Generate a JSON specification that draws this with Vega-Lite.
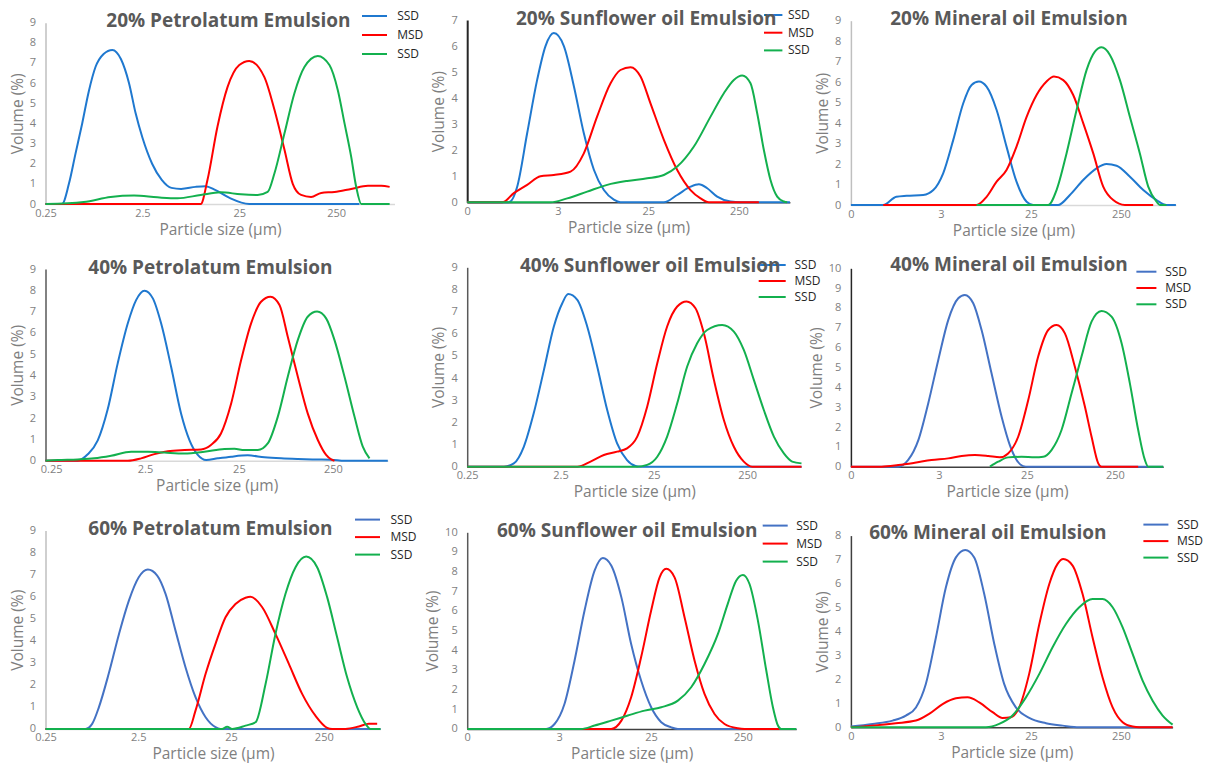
{
"$schema": "https://vega.github.io/schema/vega-lite/v6.json",
"padding": {"left": 9.5, "top": 7, "right": 5, "bottom": 5},
"background": "white",
"config": {
  "view": {"stroke": null},
  "font": "Open Sans",
  "line": {"strokeWidth": 2, "interpolate": "monotone"},
  "axis": {"grid": false, "ticks": false, "tickSize": 0, "labelColor": "#7f7f7f", "labelFontSize": 11, "labelFont": "Open Sans", "titleColor": "#7f7f7f", "titleFontSize": 15.5, "titleFontWeight": "normal", "titleFont": "Open Sans", "domainWidth": 1.5},
  "axisX": {"labelPadding": 3, "titlePadding": 4, "labelFlush": false, "labelOverlap": false, "domainColor": "#d9d9d9"},
  "axisY": {"labelPadding": 10, "titlePadding": 4, "labelFlush": false, "labelOverlap": false, "domainColor": "#bfbfbf"},
  "title": {"font": "Open Sans", "fontSize": 19, "fontWeight": "bold", "color": "#595959", "anchor": "middle", "frame": "group", "baseline": "alphabetic"},
  "legend": {"orient": "none", "symbolType": "M-1.786,0H1.786", "symbolSize": 196, "symbolStrokeWidth": 2, "labelOffset": 14, "labelFontSize": 12, "labelColor": "#262626", "labelFont": "Open Sans", "padding": 0, "offset": 0}
},
"datasets": {
"p1": [
{"series":"SSD","size":0.25,"volume":0},{"series":"SSD","size":0.37,"volume":0},{"series":"SSD","size":0.436,"volume":1.0},{"series":"SSD","size":0.51,"volume":2.5},{"series":"SSD","size":0.598,"volume":4.0},{"series":"SSD","size":0.70,"volume":5.6},{"series":"SSD","size":0.82,"volume":6.8},{"series":"SSD","size":0.995,"volume":7.45},{"series":"SSD","size":1.225,"volume":7.65},{"series":"SSD","size":1.50,"volume":7.2},{"series":"SSD","size":1.82,"volume":6.0},{"series":"SSD","size":2.13,"volume":4.5},{"series":"SSD","size":2.5,"volume":3.3},{"series":"SSD","size":3.15,"volume":2.0},{"series":"SSD","size":3.96,"volume":1.2},{"series":"SSD","size":4.99,"volume":0.8},{"series":"SSD","size":6.28,"volume":0.75},{"series":"SSD","size":8.87,"volume":0.85},{"series":"SSD","size":11.17,"volume":0.88},{"series":"SSD","size":14.06,"volume":0.7},{"series":"SSD","size":19.86,"volume":0.3},{"series":"SSD","size":31.7,"volume":0},{"series":"SSD","size":434,"volume":0},
{"series":"MSD","size":0.25,"volume":0},{"series":"MSD","size":10.0,"volume":0},{"series":"MSD","size":11.75,"volume":1.2},{"series":"MSD","size":14.9,"volume":3.85},{"series":"MSD","size":18.9,"volume":5.8},{"series":"MSD","size":25,"volume":6.9},{"series":"MSD","size":31.7,"volume":7.1},{"series":"MSD","size":45.4,"volume":6.3},{"series":"MSD","size":57.5,"volume":4.7},{"series":"MSD","size":73.1,"volume":2.7},{"series":"MSD","size":89.1,"volume":1.0},{"series":"MSD","size":108.6,"volume":0.45},{"series":"MSD","size":137.7,"volume":0.35},{"series":"MSD","size":175,"volume":0.55},{"series":"MSD","size":240,"volume":0.6},{"series":"MSD","size":357,"volume":0.75},{"series":"MSD","size":532,"volume":0.9},{"series":"MSD","size":731,"volume":0.9},{"series":"MSD","size":891,"volume":0.85},
{"series":"SSD 2","size":0.25,"volume":0},{"series":"SSD 2","size":0.62,"volume":0.1},{"series":"SSD 2","size":1.175,"volume":0.35},{"series":"SSD 2","size":2.05,"volume":0.42},{"series":"SSD 2","size":3.57,"volume":0.33},{"series":"SSD 2","size":5.75,"volume":0.28},{"series":"SSD 2","size":10.0,"volume":0.45},{"series":"SSD 2","size":16.1,"volume":0.58},{"series":"SSD 2","size":26.0,"volume":0.48},{"series":"SSD 2","size":38.7,"volume":0.45},{"series":"SSD 2","size":49.1,"volume":0.6},{"series":"SSD 2","size":57.5,"volume":1.5},{"series":"SSD 2","size":73.1,"volume":3.5},{"series":"SSD 2","size":92.7,"volume":5.5},{"series":"SSD 2","size":117.5,"volume":6.8},{"series":"SSD 2","size":161.4,"volume":7.35},{"series":"SSD 2","size":213,"volume":6.9},{"series":"SSD 2","size":260,"volume":5.65},{"series":"SSD 2","size":305,"volume":4.0},{"series":"SSD 2","size":357,"volume":2.35},{"series":"SSD 2","size":402,"volume":0.86},{"series":"SSD 2","size":454,"volume":0},{"series":"SSD 2","size":891,"volume":0}
],
"p2": [
{"series":"SSD","size":0.25,"volume":0},{"series":"SSD","size":0.721,"volume":0},{"series":"SSD","size":0.891,"volume":0.6},{"series":"SSD","size":1.148,"volume":2.65},{"series":"SSD","size":1.48,"volume":4.7},{"series":"SSD","size":1.83,"volume":6.0},{"series":"SSD","size":2.26,"volume":6.5},{"series":"SSD","size":2.92,"volume":6.0},{"series":"SSD","size":3.77,"volume":4.45},{"series":"SSD","size":4.85,"volume":2.65},{"series":"SSD","size":6.26,"volume":1.25},{"series":"SSD","size":8.07,"volume":0.47},{"series":"SSD","size":10.4,"volume":0.1},{"series":"SSD","size":12.3,"volume":0},{"series":"SSD","size":37.1,"volume":0},{"series":"SSD","size":52.1,"volume":0.28},{"series":"SSD","size":73.1,"volume":0.6},{"series":"SSD","size":90.4,"volume":0.69},{"series":"SSD","size":111.7,"volume":0.54},{"series":"SSD","size":143.9,"volume":0.22},{"series":"SSD","size":202,"volume":0.03},{"series":"SSD","size":260,"volume":0},{"series":"SSD","size":914,"volume":0},
{"series":"MSD","size":0.25,"volume":0},{"series":"MSD","size":0.608,"volume":0},{"series":"MSD","size":0.818,"volume":0.35},{"series":"MSD","size":1.148,"volume":0.67},{"series":"MSD","size":1.61,"volume":1.0},{"series":"MSD","size":2.26,"volume":1.05},{"series":"MSD","size":3.46,"volume":1.18},{"series":"MSD","size":4.85,"volume":1.88},{"series":"MSD","size":6.81,"volume":3.3},{"series":"MSD","size":9.57,"volume":4.57},{"series":"MSD","size":12.3,"volume":5.08},{"series":"MSD","size":15.9,"volume":5.19},{"series":"MSD","size":20.5,"volume":4.83},{"series":"MSD","size":26.4,"volume":3.8},{"series":"MSD","size":37.1,"volume":2.4},{"series":"MSD","size":52.1,"volume":1.24},{"series":"MSD","size":73.1,"volume":0.47},{"series":"MSD","size":94.2,"volume":0.15},{"series":"MSD","size":116.4,"volume":0},{"series":"MSD","size":415,"volume":0},
{"series":"SSD 2","size":0.25,"volume":0},{"series":"SSD 2","size":2.08,"volume":0},{"series":"SSD 2","size":3.18,"volume":0.15},{"series":"SSD 2","size":5.28,"volume":0.41},{"series":"SSD 2","size":8.79,"volume":0.67},{"series":"SSD 2","size":14.6,"volume":0.82},{"series":"SSD 2","size":24.3,"volume":0.92},{"series":"SSD 2","size":37.1,"volume":1.05},{"series":"SSD 2","size":52.1,"volume":1.37},{"series":"SSD 2","size":79.6,"volume":2.14},{"series":"SSD 2","size":121.6,"volume":3.29},{"series":"SSD 2","size":170.6,"volume":4.19},{"series":"SSD 2","size":219.8,"volume":4.7},{"series":"SSD 2","size":271.6,"volume":4.87},{"series":"SSD 2","size":335.7,"volume":4.57},{"series":"SSD 2","size":398,"volume":3.42},{"series":"SSD 2","size":472,"volume":2.0},{"series":"SSD 2","size":558,"volume":0.86},{"series":"SSD 2","size":662,"volume":0.22},{"series":"SSD 2","size":785,"volume":0.03},{"series":"SSD 2","size":853,"volume":0}
],
"p3": [
{"series":"SSD","size":0.25,"volume":0},{"series":"SSD","size":0.571,"volume":0},{"series":"SSD","size":0.80,"volume":0.4},{"series":"SSD","size":1.04,"volume":0.45},{"series":"SSD","size":1.59,"volume":0.49},{"series":"SSD","size":2.06,"volume":0.73},{"series":"SSD","size":2.65,"volume":1.55},{"series":"SSD","size":3.43,"volume":3.18},{"series":"SSD","size":4.43,"volume":4.97},{"series":"SSD","size":5.48,"volume":5.86},{"series":"SSD","size":6.61,"volume":6.03},{"series":"SSD","size":8.04,"volume":5.78},{"series":"SSD","size":10.4,"volume":4.64},{"series":"SSD","size":13.4,"volume":2.85},{"series":"SSD","size":17.3,"volume":1.14},{"series":"SSD","size":22.4,"volume":0.16},{"series":"SSD","size":26.5,"volume":0},{"series":"SSD","size":50.3,"volume":0},{"series":"SSD","size":67.8,"volume":0.49},{"series":"SSD","size":95.3,"volume":1.22},{"series":"SSD","size":134,"volume":1.79},{"series":"SSD","size":173,"volume":2.0},{"series":"SSD","size":224,"volume":1.92},{"series":"SSD","size":315,"volume":1.38},{"series":"SSD","size":443,"volume":0.73},{"series":"SSD","size":622,"volume":0.24},{"series":"SSD","size":803,"volume":0},{"series":"SSD","size":1021,"volume":0},
{"series":"MSD","size":0.571,"volume":0},{"series":"MSD","size":6.22,"volume":0},{"series":"MSD","size":8.04,"volume":0.4},{"series":"MSD","size":10.4,"volume":1.14},{"series":"MSD","size":13.4,"volume":1.71},{"series":"MSD","size":17.3,"volume":2.85},{"series":"MSD","size":22.4,"volume":4.3},{"series":"MSD","size":28.9,"volume":5.37},{"series":"MSD","size":37.3,"volume":6.03},{"series":"MSD","size":45.1,"volume":6.27},{"series":"MSD","size":57.2,"volume":6.1},{"series":"MSD","size":73.8,"volume":5.37},{"series":"MSD","size":95.3,"volume":4.0},{"series":"MSD","size":123.3,"volume":2.52},{"series":"MSD","size":159,"volume":0.9},{"series":"MSD","size":205.5,"volume":0.24},{"series":"MSD","size":277,"volume":0},{"series":"MSD","size":571,"volume":0},
{"series":"SSD 2","size":6.22,"volume":0},{"series":"SSD 2","size":39,"volume":0},{"series":"SSD 2","size":48.2,"volume":0.73},{"series":"SSD 2","size":62.2,"volume":2.52},{"series":"SSD 2","size":80.4,"volume":4.64},{"series":"SSD 2","size":104,"volume":6.6},{"series":"SSD 2","size":128.5,"volume":7.49},{"series":"SSD 2","size":152.4,"volume":7.7},{"series":"SSD 2","size":188.8,"volume":7.33},{"series":"SSD 2","size":243.8,"volume":6.1},{"series":"SSD 2","size":315,"volume":4.3},{"series":"SSD 2","size":406,"volume":2.52},{"series":"SSD 2","size":503,"volume":0.9},{"series":"SSD 2","size":622,"volume":0.16},{"series":"SSD 2","size":678,"volume":0},{"series":"SSD 2","size":803,"volume":0}
],
"p4": [
{"series":"SSD","size":0.218,"volume":0},{"series":"SSD","size":0.48,"volume":0},{"series":"SSD","size":0.614,"volume":0.3},{"series":"SSD","size":0.785,"volume":0.95},{"series":"SSD","size":1.0,"volume":2.4},{"series":"SSD","size":1.28,"volume":4.57},{"series":"SSD","size":1.64,"volume":6.45},{"series":"SSD","size":2.01,"volume":7.54},{"series":"SSD","size":2.47,"volume":7.98},{"series":"SSD","size":3.03,"volume":7.62},{"series":"SSD","size":3.71,"volume":6.45},{"series":"SSD","size":4.74,"volume":4.41},{"series":"SSD","size":6.05,"volume":2.22},{"series":"SSD","size":7.43,"volume":0.97},{"series":"SSD","size":9.12,"volume":0.27},{"series":"SSD","size":11.2,"volume":0.03},{"series":"SSD","size":14.9,"volume":0.11},{"series":"SSD","size":20.7,"volume":0.19},{"series":"SSD","size":31.0,"volume":0.25},{"series":"SSD","size":46.8,"volume":0.16},{"series":"SSD","size":70.3,"volume":0.11},{"series":"SSD","size":106,"volume":0.08},{"series":"SSD","size":159,"volume":0.06},{"series":"SSD","size":240,"volume":0.05},{"series":"SSD","size":333,"volume":0},{"series":"SSD","size":962,"volume":0},
{"series":"MSD","size":0.218,"volume":0},{"series":"MSD","size":1.64,"volume":0},{"series":"MSD","size":2.27,"volume":0.11},{"series":"MSD","size":3.15,"volume":0.31},{"series":"MSD","size":4.37,"volume":0.44},{"series":"MSD","size":6.58,"volume":0.5},{"series":"MSD","size":9.89,"volume":0.53},{"series":"MSD","size":12.6,"volume":0.74},{"series":"MSD","size":16.1,"volume":1.28},{"series":"MSD","size":20.7,"volume":2.7},{"series":"MSD","size":26.4,"volume":4.73},{"series":"MSD","size":33.7,"volume":6.45},{"series":"MSD","size":43.0,"volume":7.46},{"series":"MSD","size":54.2,"volume":7.7},{"series":"MSD","size":67.6,"volume":7.31},{"series":"MSD","size":82.8,"volume":5.82},{"series":"MSD","size":106,"volume":3.94},{"series":"MSD","size":135,"volume":2.22},{"series":"MSD","size":173,"volume":0.97},{"series":"MSD","size":212,"volume":0.27},{"series":"MSD","size":240,"volume":0.06},{"series":"MSD","size":260,"volume":0},
{"series":"SSD 2","size":0.218,"volume":0},{"series":"SSD 2","size":0.294,"volume":0.03},{"series":"SSD 2","size":0.48,"volume":0.06},{"series":"SSD 2","size":0.72,"volume":0.11},{"series":"SSD 2","size":1.09,"volume":0.23},{"series":"SSD 2","size":1.78,"volume":0.42},{"series":"SSD 2","size":2.67,"volume":0.42},{"series":"SSD 2","size":4.03,"volume":0.38},{"series":"SSD 2","size":6.58,"volume":0.34},{"series":"SSD 2","size":10.7,"volume":0.42},{"series":"SSD 2","size":17.5,"volume":0.55},{"series":"SSD 2","size":22.4,"volume":0.56},{"series":"SSD 2","size":28.6,"volume":0.5},{"series":"SSD 2","size":39.7,"volume":0.5},{"series":"SSD 2","size":50.7,"volume":0.81},{"series":"SSD 2","size":64.9,"volume":2.07},{"series":"SSD 2","size":82.8,"volume":3.94},{"series":"SSD 2","size":106,"volume":5.67},{"series":"SSD 2","size":135,"volume":6.76},{"series":"SSD 2","size":170,"volume":7.0},{"series":"SSD 2","size":212,"volume":6.68},{"series":"SSD 2","size":260,"volume":5.67},{"series":"SSD 2","size":333,"volume":3.94},{"series":"SSD 2","size":425,"volume":2.07},{"series":"SSD 2","size":521,"volume":0.66},{"series":"SSD 2","size":614,"volume":0.11}
],
"p5": [
{"series":"SSD","size":0.25,"volume":0},{"series":"SSD","size":0.618,"volume":0},{"series":"SSD","size":0.79,"volume":0.15},{"series":"SSD","size":1.01,"volume":0.9},{"series":"SSD","size":1.29,"volume":2.41},{"series":"SSD","size":1.66,"volume":4.37},{"series":"SSD","size":2.12,"volume":6.33},{"series":"SSD","size":2.61,"volume":7.38},{"series":"SSD","size":3.02,"volume":7.79},{"series":"SSD","size":3.78,"volume":7.53},{"series":"SSD","size":4.83,"volume":6.33},{"series":"SSD","size":6.18,"volume":4.52},{"series":"SSD","size":7.91,"volume":2.56},{"series":"SSD","size":10.1,"volume":1.05},{"series":"SSD","size":12.9,"volume":0.3},{"series":"SSD","size":15.9,"volume":0.03},{"series":"SSD","size":18.0,"volume":0},{"series":"SSD","size":955,"volume":0},
{"series":"MSD","size":0.25,"volume":0},{"series":"MSD","size":3.78,"volume":0},{"series":"MSD","size":5.24,"volume":0.23},{"series":"MSD","size":7.28,"volume":0.53},{"series":"MSD","size":10.1,"volume":0.68},{"series":"MSD","size":12.9,"volume":0.83},{"series":"MSD","size":16.6,"volume":1.36},{"series":"MSD","size":21.2,"volume":2.71},{"series":"MSD","size":27.2,"volume":4.67},{"series":"MSD","size":34.7,"volume":6.33},{"series":"MSD","size":44.5,"volume":7.23},{"series":"MSD","size":56,"volume":7.46},{"series":"MSD","size":69.8,"volume":7.15},{"series":"MSD","size":85.9,"volume":6.02},{"series":"MSD","size":110,"volume":3.92},{"series":"MSD","size":140.6,"volume":2.11},{"series":"MSD","size":180,"volume":0.9},{"series":"MSD","size":230,"volume":0.23},{"series":"MSD","size":283,"volume":0},{"series":"MSD","size":955,"volume":0},
{"series":"SSD 2","size":0.25,"volume":0},{"series":"SSD 2","size":16.6,"volume":0},{"series":"SSD 2","size":21.2,"volume":0.08},{"series":"SSD 2","size":27.2,"volume":0.45},{"series":"SSD 2","size":34.7,"volume":1.36},{"series":"SSD 2","size":44.5,"volume":2.86},{"series":"SSD 2","size":56.9,"volume":4.52},{"series":"SSD 2","size":72.8,"volume":5.57},{"series":"SSD 2","size":93.1,"volume":6.17},{"series":"SSD 2","size":135,"volume":6.4},{"series":"SSD 2","size":180,"volume":6.1},{"series":"SSD 2","size":230,"volume":5.27},{"series":"SSD 2","size":294.6,"volume":3.92},{"series":"SSD 2","size":377,"volume":2.56},{"series":"SSD 2","size":483,"volume":1.36},{"series":"SSD 2","size":618,"volume":0.6},{"series":"SSD 2","size":759,"volume":0.23},{"series":"SSD 2","size":955,"volume":0.15}
],
"p6": [
{"series":"SSD","size":0.25,"volume":0},{"series":"SSD","size":0.863,"volume":0},{"series":"SSD","size":1.12,"volume":0.34},{"series":"SSD","size":1.46,"volume":1.34},{"series":"SSD","size":1.89,"volume":3.19},{"series":"SSD","size":2.46,"volume":5.38},{"series":"SSD","size":3.19,"volume":7.39},{"series":"SSD","size":4.15,"volume":8.49},{"series":"SSD","size":4.93,"volume":8.66},{"series":"SSD","size":6.14,"volume":8.24},{"series":"SSD","size":7.64,"volume":6.89},{"series":"SSD","size":9.91,"volume":4.71},{"series":"SSD","size":12.9,"volume":2.52},{"series":"SSD","size":16.0,"volume":1.09},{"series":"SSD","size":19.1,"volume":0.34},{"series":"SSD","size":22.7,"volume":0.03},{"series":"SSD","size":25.9,"volume":0},{"series":"SSD","size":885,"volume":0},
{"series":"MSD","size":0.25,"volume":0},{"series":"MSD","size":0.557,"volume":0},{"series":"MSD","size":0.863,"volume":0.08},{"series":"MSD","size":1.33,"volume":0.2},{"series":"MSD","size":2.06,"volume":0.34},{"series":"MSD","size":3.19,"volume":0.42},{"series":"MSD","size":4.53,"volume":0.54},{"series":"MSD","size":6.41,"volume":0.59},{"series":"MSD","size":9.1,"volume":0.54},{"series":"MSD","size":12.3,"volume":0.47},{"series":"MSD","size":15.3,"volume":0.67},{"series":"MSD","size":19.9,"volume":1.51},{"series":"MSD","size":25.9,"volume":3.36},{"series":"MSD","size":33.6,"volume":5.55},{"series":"MSD","size":43.7,"volume":6.89},{"series":"MSD","size":54.3,"volume":7.14},{"series":"MSD","size":67.6,"volume":6.72},{"series":"MSD","size":87.7,"volume":5.04},{"series":"MSD","size":114,"volume":3.03},{"series":"MSD","size":135.8,"volume":1.51},{"series":"MSD","size":161.8,"volume":0.17},{"series":"MSD","size":176,"volume":0},{"series":"MSD","size":460,"volume":0},
{"series":"SSD 2","size":9.5,"volume":0},{"series":"SSD 2","size":11.8,"volume":0.25},{"series":"SSD 2","size":15.3,"volume":0.47},{"series":"SSD 2","size":21.7,"volume":0.5},{"series":"SSD 2","size":30.8,"volume":0.47},{"series":"SSD 2","size":38.4,"volume":0.5},{"series":"SSD 2","size":47.6,"volume":0.84},{"series":"SSD 2","size":61.9,"volume":1.85},{"series":"SSD 2","size":80.5,"volume":3.7},{"series":"SSD 2","size":104.4,"volume":5.55},{"series":"SSD 2","size":135.8,"volume":7.31},{"series":"SSD 2","size":176,"volume":7.85},{"series":"SSD 2","size":229,"volume":7.56},{"series":"SSD 2","size":298,"volume":6.22},{"series":"SSD 2","size":370,"volume":4.2},{"series":"SSD 2","size":460,"volume":1.85},{"series":"SSD 2","size":548,"volume":0.34},{"series":"SSD 2","size":598,"volume":0},{"series":"SSD 2","size":885,"volume":0}
],
"p7": [
{"series":"SSD","size":0.25,"volume":0},{"series":"SSD","size":0.674,"volume":0},{"series":"SSD","size":0.796,"volume":0.23},{"series":"SSD","size":0.94,"volume":0.98},{"series":"SSD","size":1.2,"volume":2.5},{"series":"SSD","size":1.55,"volume":4.31},{"series":"SSD","size":1.98,"volume":5.82},{"series":"SSD","size":2.53,"volume":6.88},{"series":"SSD","size":3.17,"volume":7.23},{"series":"SSD","size":4.0,"volume":6.96},{"series":"SSD","size":4.92,"volume":6.13},{"series":"SSD","size":6.3,"volume":4.46},{"series":"SSD","size":8.07,"volume":2.8},{"series":"SSD","size":10.35,"volume":1.44},{"series":"SSD","size":13.3,"volume":0.53},{"series":"SSD","size":17.0,"volume":0.08},{"series":"SSD","size":19.2,"volume":0},{"series":"SSD","size":1021,"volume":0},
{"series":"MSD","size":0.25,"volume":0},{"series":"MSD","size":8.77,"volume":0},{"series":"MSD","size":10.35,"volume":0.83},{"series":"MSD","size":13.3,"volume":2.5},{"series":"MSD","size":17.0,"volume":3.86},{"series":"MSD","size":21.8,"volume":5.07},{"series":"MSD","size":27.9,"volume":5.67},{"series":"MSD","size":35.8,"volume":5.95},{"series":"MSD","size":40.5,"volume":6.0},{"series":"MSD","size":54.2,"volume":5.52},{"series":"MSD","size":75.3,"volume":4.31},{"series":"MSD","size":105,"volume":2.95},{"series":"MSD","size":146,"volume":1.59},{"series":"MSD","size":203,"volume":0.6},{"series":"MSD","size":271.6,"volume":0.05},{"series":"MSD","size":307.6,"volume":0},{"series":"MSD","size":428,"volume":0},{"series":"MSD","size":597,"volume":0.11},{"series":"MSD","size":764,"volume":0.23},{"series":"MSD","size":940,"volume":0.23},
{"series":"SSD 2","size":0.25,"volume":0},{"series":"SSD 2","size":20.0,"volume":0},{"series":"SSD 2","size":22.7,"volume":0.1},{"series":"SSD 2","size":25.7,"volume":0},{"series":"SSD 2","size":35.8,"volume":0.15},{"series":"SSD 2","size":45.9,"volume":0.3},{"series":"SSD 2","size":58.9,"volume":2.04},{"series":"SSD 2","size":75.3,"volume":4.31},{"series":"SSD 2","size":96.6,"volume":6.13},{"series":"SSD 2","size":123.9,"volume":7.34},{"series":"SSD 2","size":161.4,"volume":7.82},{"series":"SSD 2","size":211.8,"volume":7.34},{"series":"SSD 2","size":271.6,"volume":5.98},{"series":"SSD 2","size":348,"volume":4.16},{"series":"SSD 2","size":446,"volume":2.34},{"series":"SSD 2","size":573,"volume":0.98},{"series":"SSD 2","size":703,"volume":0.23},{"series":"SSD 2","size":796,"volume":0},{"series":"SSD 2","size":1021,"volume":0}
],
"p8": [
{"series":"SSD","size":0.25,"volume":0},{"series":"SSD","size":1.81,"volume":0},{"series":"SSD","size":2.23,"volume":0.25},{"series":"SSD","size":2.86,"volume":1.27},{"series":"SSD","size":3.68,"volume":3.47},{"series":"SSD","size":4.73,"volume":6.02},{"series":"SSD","size":6.08,"volume":8.05},{"series":"SSD","size":7.48,"volume":8.69},{"series":"SSD","size":9.23,"volume":8.31},{"series":"SSD","size":11.9,"volume":6.69},{"series":"SSD","size":15.2,"volume":4.32},{"series":"SSD","size":19.5,"volume":2.46},{"series":"SSD","size":25.1,"volume":1.1},{"series":"SSD","size":32.3,"volume":0.34},{"series":"SSD","size":41.5,"volume":0.08},{"series":"SSD","size":49.0,"volume":0},{"series":"SSD","size":950,"volume":0},
{"series":"MSD","size":0.25,"volume":0},{"series":"MSD","size":9.23,"volume":0},{"series":"MSD","size":11.9,"volume":0.42},{"series":"MSD","size":15.2,"volume":1.61},{"series":"MSD","size":19.5,"volume":3.64},{"series":"MSD","size":25.1,"volume":6.02},{"series":"MSD","size":31.0,"volume":7.71},{"series":"MSD","size":36.6,"volume":8.14},{"series":"MSD","size":45.1,"volume":7.71},{"series":"MSD","size":57.9,"volume":5.68},{"series":"MSD","size":74.5,"volume":3.47},{"series":"MSD","size":95.5,"volume":1.78},{"series":"MSD","size":122.7,"volume":0.76},{"series":"MSD","size":157.7,"volume":0.25},{"series":"MSD","size":220,"volume":0.03},{"series":"MSD","size":260,"volume":0},{"series":"MSD","size":627,"volume":0},
{"series":"SSD 2","size":0.25,"volume":0},{"series":"SSD 2","size":4.35,"volume":0},{"series":"SSD 2","size":6.08,"volume":0.17},{"series":"SSD 2","size":9.23,"volume":0.42},{"series":"SSD 2","size":14.0,"volume":0.68},{"series":"SSD 2","size":21.3,"volume":0.93},{"series":"SSD 2","size":32.3,"volume":1.1},{"series":"SSD 2","size":49.0,"volume":1.44},{"series":"SSD 2","size":68.4,"volume":2.12},{"series":"SSD 2","size":95.5,"volume":3.3},{"series":"SSD 2","size":133.7,"volume":4.83},{"series":"SSD 2","size":171,"volume":6.36},{"series":"SSD 2","size":211,"volume":7.54},{"series":"SSD 2","size":250,"volume":7.83},{"series":"SSD 2","size":295,"volume":7.37},{"series":"SSD 2","size":364,"volume":5.51},{"series":"SSD 2","size":449,"volume":2.97},{"series":"SSD 2","size":530,"volume":1.1},{"series":"SSD 2","size":601,"volume":0.17},{"series":"SSD 2","size":653,"volume":0},{"series":"SSD 2","size":950,"volume":0}
],
"p9": [
{"series":"SSD","size":0.25,"volume":0.03},{"series":"SSD","size":0.435,"volume":0.14},{"series":"SSD","size":0.726,"volume":0.28},{"series":"SSD","size":1.02,"volume":0.49},{"series":"SSD","size":1.32,"volume":0.83},{"series":"SSD","size":1.70,"volume":1.81},{"series":"SSD","size":2.2,"volume":3.75},{"series":"SSD","size":2.84,"volume":5.84},{"series":"SSD","size":3.67,"volume":7.09},{"series":"SSD","size":4.66,"volume":7.4},{"series":"SSD","size":5.86,"volume":7.09},{"series":"SSD","size":7.57,"volume":5.56},{"series":"SSD","size":9.79,"volume":3.48},{"series":"SSD","size":12.6,"volume":1.81},{"series":"SSD","size":17.0,"volume":0.83},{"series":"SSD","size":23.9,"volume":0.39},{"series":"SSD","size":36.7,"volume":0.17},{"series":"SSD","size":56.2,"volume":0.07},{"series":"SSD","size":86.1,"volume":0},{"series":"SSD","size":937,"volume":0},
{"series":"MSD","size":0.25,"volume":0},{"series":"MSD","size":0.435,"volume":0.07},{"series":"MSD","size":0.79,"volume":0.17},{"series":"MSD","size":1.32,"volume":0.28},{"series":"MSD","size":1.85,"volume":0.56},{"series":"MSD","size":2.61,"volume":0.97},{"series":"MSD","size":3.67,"volume":1.21},{"series":"MSD","size":4.94,"volume":1.25},{"series":"MSD","size":6.67,"volume":1.04},{"series":"MSD","size":9.37,"volume":0.63},{"series":"MSD","size":12.1,"volume":0.39},{"series":"MSD","size":15.0,"volume":0.42},{"series":"MSD","size":18.5,"volume":0.83},{"series":"MSD","size":23.9,"volume":2.23},{"series":"MSD","size":31.0,"volume":4.31},{"series":"MSD","size":40.0,"volume":5.98},{"series":"MSD","size":49.4,"volume":6.82},{"series":"MSD","size":57.2,"volume":7.02},{"series":"MSD","size":72.6,"volume":6.75},{"series":"MSD","size":93.7,"volume":5.56},{"series":"MSD","size":121,"volume":3.75},{"series":"MSD","size":156,"volume":2.09},{"series":"MSD","size":202,"volume":0.83},{"series":"MSD","size":261,"volume":0.21},{"series":"MSD","size":337,"volume":0.03},{"series":"MSD","size":400,"volume":0},{"series":"MSD","size":937,"volume":0},
{"series":"SSD 2","size":0.25,"volume":0},{"series":"SSD 2","size":7.91,"volume":0},{"series":"SSD 2","size":11.1,"volume":0.14},{"series":"SSD 2","size":15.6,"volume":0.49},{"series":"SSD 2","size":22.0,"volume":1.25},{"series":"SSD 2","size":31.0,"volume":2.23},{"series":"SSD 2","size":43.5,"volume":3.34},{"series":"SSD 2","size":61.2,"volume":4.31},{"series":"SSD 2","size":86.1,"volume":5.01},{"series":"SSD 2","size":121,"volume":5.35},{"series":"SSD 2","size":156,"volume":5.35},{"series":"SSD 2","size":202,"volume":5.01},{"series":"SSD 2","size":261,"volume":4.17},{"series":"SSD 2","size":337,"volume":3.06},{"series":"SSD 2","size":435,"volume":1.95},{"series":"SSD 2","size":562,"volume":1.11},{"series":"SSD 2","size":726,"volume":0.49},{"series":"SSD 2","size":937,"volume":0.11}
]
},
"columns": 3,
"spacing": {"row": 62.3, "column": 48.7},
"bounds": "flush",
"resolve": {"scale": {"color": "independent", "x": "independent", "y": "independent"}, "legend": {"color": "independent"}},
"concat": [
{
 "title": {"text": "20% Petrolatum Emulsion", "offset": -22.9, "dx": -3.2},
 "width": 372.3, "height": 184,
 "data": {"name": "p1"},
 "mark": "line",
 "encoding": {
  "x": {"field": "size", "type": "quantitative", "scale": {"type": "log", "domain": [0.25, 1000], "range": [0, 349], "nice": false}, "axis": {"values": [0.25, 2.5, 25, 250], "format": "~g", "title": "Particle size (µm)"}},
  "y": {"field": "volume", "type": "quantitative", "scale": {"domain": [0, 9], "range": [184, 2.7], "nice": false}, "axis": {"values": [0,1,2,3,4,5,6,7,8,9], "title": "Volume (%)"}},
  "color": {"field": "series", "type": "nominal", "scale": {"domain": ["SSD", "MSD", "SSD 2"], "range": ["#1f78cf", "#ff0000", "#13b04e"]}, "legend": {"title": null, "legendX": 321, "legendY": -12, "rowPadding": 5, "labelOffset": 14.7, "labelExpr": "datum.label == 'SSD 2' ? 'SSD' : datum.label"}}
 }
},
{
 "title": {"text": "20% Sunflower oil Emulsion", "offset": -22.1, "dx": 17.7},
 "width": 322.7, "height": 182.3,
 "data": {"name": "p2"},
 "mark": "line",
 "encoding": {
  "x": {"field": "size", "type": "quantitative", "scale": {"type": "log", "domain": [0.25, 914], "nice": false}, "axis": {"values": [0.25, 2.5, 25, 250], "format": ".0f", "title": "Particle size (µm)", "domainColor": "#404040"}},
  "y": {"field": "volume", "type": "quantitative", "scale": {"domain": [0, 7], "nice": false}, "axis": {"values": [0,1,2,3,4,5,6,7], "title": "Volume (%)", "domainColor": "#262626", "domainWidth": 2}},
  "color": {"field": "series", "type": "nominal", "scale": {"domain": ["SSD", "MSD", "SSD 2"], "range": ["#1f78cf", "#ff0000", "#13b04e"]}, "legend": {"title": null, "legendX": 298, "legendY": -13, "rowPadding": 3.7, "symbolType": "M-1.314,0H1.314", "labelOffset": 6.7, "labelExpr": "datum.label == 'SSD 2' ? 'SSD' : datum.label"}}
 }
},
{
 "title": {"text": "20% Mineral oil Emulsion", "offset": -14.1, "dx": -4.5},
 "width": 325, "height": 185,
 "data": {"name": "p3"},
 "mark": "line",
 "encoding": {
  "x": {"field": "size", "type": "quantitative", "scale": {"type": "log", "domain": [0.25, 1021], "nice": false}, "axis": {"values": [0.25, 2.5, 25, 250], "format": ".0f", "title": "Particle size (µm)"}},
  "y": {"field": "volume", "type": "quantitative", "scale": {"domain": [0, 9], "range": [185, 0.7], "nice": false}, "axis": {"values": [0,1,2,3,4,5,6,7,8,9], "title": "Volume (%)"}},
  "color": {"field": "series", "type": "nominal", "scale": {"domain": ["SSD", "MSD", "SSD 2"], "range": ["#1f78cf", "#ff0000", "#13b04e"]}, "legend": null}
 }
},
{
 "title": {"text": "40% Petrolatum Emulsion", "offset": -14.6, "dx": -21.2},
 "width": 372.3, "height": 193.4,
 "data": {"name": "p4"},
 "mark": "line",
 "encoding": {
  "x": {"field": "size", "type": "quantitative", "scale": {"type": "log", "domain": [0.218, 962], "range": [0, 342.3], "nice": false}, "axis": {"values": [0.25, 2.5, 25, 250], "format": "~g", "title": "Particle size (µm)"}},
  "y": {"field": "volume", "type": "quantitative", "scale": {"domain": [0, 9], "range": [193.4, 1.7], "nice": false}, "axis": {"values": [0,1,2,3,4,5,6,7,8,9], "title": "Volume (%)", "domainColor": "#595959"}},
  "color": {"field": "series", "type": "nominal", "scale": {"domain": ["SSD", "MSD", "SSD 2"], "range": ["#1f78cf", "#ff0000", "#13b04e"]}, "legend": null}
 }
},
{
 "title": {"text": "40% Sunflower oil Emulsion", "offset": -18.6, "dx": 15.9},
 "width": 334.3, "height": 199.4,
 "data": {"name": "p5"},
 "mark": "line",
 "encoding": {
  "x": {"field": "size", "type": "quantitative", "scale": {"type": "log", "domain": [0.25, 955], "nice": false}, "axis": {"values": [0.25, 2.5, 25, 250], "format": "~g", "title": "Particle size (µm)"}},
  "y": {"field": "volume", "type": "quantitative", "scale": {"domain": [0, 9], "nice": false}, "axis": {"values": [0,1,2,3,4,5,6,7,8,9], "title": "Volume (%)", "domainColor": "#595959"}},
  "color": {"field": "series", "type": "nominal", "scale": {"domain": ["SSD", "MSD", "SSD 2"], "range": ["#1f78cf", "#ff0000", "#13b04e"]}, "legend": {"title": null, "legendX": 297, "legendY": -10.3, "rowPadding": 2, "symbolType": "M-1.93,0H1.93", "labelOffset": 14.3, "labelExpr": "datum.label == 'SSD 2' ? 'SSD' : datum.label"}}
 }
},
{
 "title": {"text": "40% Mineral oil Emulsion", "offset": -12.6, "dx": 1.9},
 "width": 312.3, "height": 199.4,
 "data": {"name": "p6"},
 "mark": "line",
 "encoding": {
  "x": {"field": "size", "type": "quantitative", "scale": {"type": "log", "domain": [0.25, 885], "nice": false}, "axis": {"values": [0.25, 2.5, 25, 250], "format": ".0f", "title": "Particle size (µm)", "domainColor": "#404040"}},
  "y": {"field": "volume", "type": "quantitative", "scale": {"domain": [0, 10], "range": [199.4, 1], "nice": false}, "axis": {"values": [0,1,2,3,4,5,6,7,8,9,10], "title": "Volume (%)", "domainColor": "#262626"}},
  "color": {"field": "series", "type": "nominal", "scale": {"domain": ["SSD", "MSD", "SSD 2"], "range": ["#4472c4", "#ff0000", "#13b04e"]}, "legend": {"title": null, "legendX": 287.5, "legendY": -3.6, "rowPadding": 2.3, "symbolType": "M-1.43,0H1.43", "labelOffset": 10.8, "labelExpr": "datum.label == 'SSD 2' ? 'SSD' : datum.label"}}
 }
},
{
 "title": {"text": "60% Petrolatum Emulsion", "offset": -26.9, "dx": -21.2},
 "width": 372.3, "height": 199.3,
 "data": {"name": "p7"},
 "mark": "line",
 "encoding": {
  "x": {"field": "size", "type": "quantitative", "scale": {"type": "log", "domain": [0.25, 1021], "range": [0, 335], "nice": false}, "axis": {"values": [0.25, 2.5, 25, 250], "format": "~g", "title": "Particle size (µm)"}},
  "y": {"field": "volume", "type": "quantitative", "scale": {"domain": [0, 9], "range": [199.3, 1], "nice": false}, "axis": {"values": [0,1,2,3,4,5,6,7,8,9], "title": "Volume (%)"}},
  "color": {"field": "series", "type": "nominal", "scale": {"domain": ["SSD", "MSD", "SSD 2"], "range": ["#4472c4", "#ff0000", "#13b04e"]}, "legend": {"title": null, "legendX": 314, "legendY": -18, "rowPadding": 3.5, "labelOffset": 15, "labelExpr": "datum.label == 'SSD 2' ? 'SSD' : datum.label"}}
 }
},
{
 "title": {"text": "60% Sunflower oil Emulsion", "offset": -23.5, "dx": -4.5},
 "width": 329, "height": 199.3,
 "data": {"name": "p8"},
 "mark": "line",
 "encoding": {
  "x": {"field": "size", "type": "quantitative", "scale": {"type": "log", "domain": [0.25, 950], "nice": false}, "axis": {"values": [0.25, 2.5, 25, 250], "format": ".0f", "title": "Particle size (µm)", "domainColor": "#404040"}},
  "y": {"field": "volume", "type": "quantitative", "scale": {"domain": [0, 10], "range": [199.3, 2.7], "nice": false}, "axis": {"values": [0,1,2,3,4,5,6,7,8,9,10], "title": "Volume (%)", "domainColor": "#595959"}},
  "color": {"field": "series", "type": "nominal", "scale": {"domain": ["SSD", "MSD", "SSD 2"], "range": ["#4472c4", "#ff0000", "#13b04e"]}, "legend": {"title": null, "legendX": 300, "legendY": -12, "rowPadding": 4, "labelOffset": 13, "labelExpr": "datum.label == 'SSD 2' ? 'SSD' : datum.label"}}
 }
},
{
 "title": {"text": "60% Mineral oil Emulsion", "offset": -25.9, "dx": -23.9},
 "width": 321.7, "height": 197.7,
 "data": {"name": "p9"},
 "mark": "line",
 "encoding": {
  "x": {"field": "size", "type": "quantitative", "scale": {"type": "log", "domain": [0.25, 937], "nice": false}, "axis": {"values": [0.25, 2.5, 25, 250], "format": ".0f", "title": "Particle size (µm)", "domainColor": "#404040"}},
  "y": {"field": "volume", "type": "quantitative", "scale": {"domain": [0, 8], "range": [197.7, 6], "nice": false}, "axis": {"values": [0,1,2,3,4,5,6,7,8], "title": "Volume (%)", "domainColor": "#404040"}},
  "color": {"field": "series", "type": "nominal", "scale": {"domain": ["SSD", "MSD", "SSD 2"], "range": ["#4472c4", "#ff0000", "#13b04e"]}, "legend": {"title": null, "legendX": 297, "legendY": -13, "rowPadding": 2.5, "labelOffset": 13, "labelExpr": "datum.label == 'SSD 2' ? 'SSD' : datum.label"}}
 }
}
]
}
